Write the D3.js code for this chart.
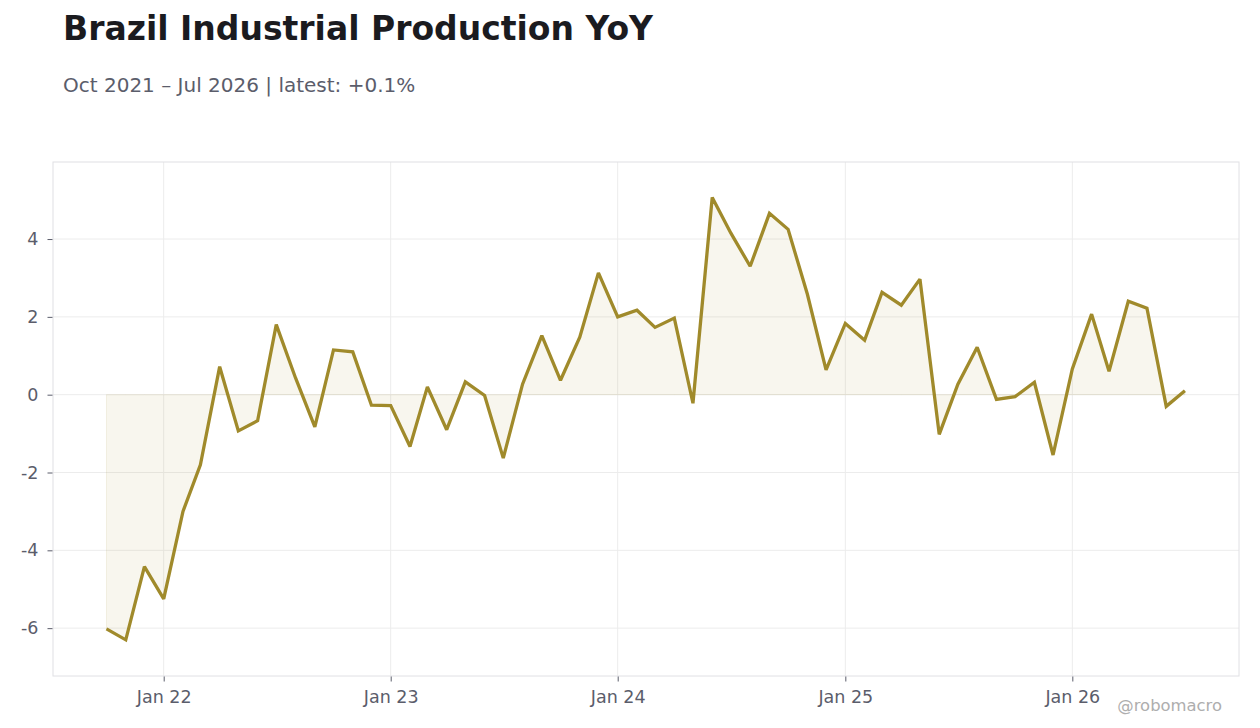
<!DOCTYPE html>
<html>
<head>
<meta charset="utf-8">
<script src="https://cdn.jsdelivr.net/npm/d3@7/dist/d3.min.js"></script>
<style>
  html, body { margin: 0; padding: 0; background: #ffffff; }
  svg { display: block; font-family: "DejaVu Sans", sans-serif; }
</style>
</head>
<body>
<svg id="chart" width="1260" height="728"></svg>
<script>
// Data: monthly YoY % change, Oct 2021 .. Jul 2026
const startMonth = "2021-10";
const values = [
  -6.02, -6.30, -4.42,
  -5.25, -3.00, -1.80, 0.72, -0.93, -0.67, 1.80, 0.43, -0.83, 1.15, 1.10, -0.27,
  -0.28, -1.33, 0.20, -0.90, 0.33, -0.02, -1.63, 0.27, 1.52, 0.37, 1.48, 3.13,
  2.00, 2.17, 1.73, 1.97, -0.22, 5.07, 4.15, 3.30, 4.66, 4.25, 2.58, 0.64,
  1.83, 1.40, 2.63, 2.30, 2.97, -1.02, 0.27, 1.22, -0.12, -0.05, 0.32, -1.55,
  0.66, 2.07, 0.60, 2.40, 2.22, -0.30, 0.10
];
const yTicks = [-6, -4, -2, 0, 2, 4];
const xTickLabels = ["Jan 22", "Jan 23", "Jan 24", "Jan 25", "Jan 26"];
const xTickDates = ["2022-01-01", "2023-01-01", "2024-01-01", "2025-01-01", "2026-01-01"];
const titleText = "Brazil Industrial Production YoY";
const subtitleText = "Oct 2021 – Jul 2026 | latest: +0.1%";
const watermark = "@robomacro";

const parse = d3.utcParse("%Y-%m");
const start = parse(startMonth);
const data = values.map((v, i) => ({ date: d3.utcMonth.offset(start, i), value: v }));

const svg = d3.select("#chart");
const L = 53, R = 1239, T = 162, B = 676;

const x = d3.scaleUtc()
  .domain([new Date(Date.UTC(2021, 6, 7)), new Date(Date.UTC(2026, 8, 26))])
  .range([L, R]);
const y = d3.scaleLinear().domain([-7.23, 5.98]).range([B, T]);

const lineColor = "#a08a2b";
const textColor = "#5b5d6b";

// gridlines
const g = svg.append("g");
g.selectAll("line.gy").data(yTicks).join("line")
  .attr("x1", L).attr("x2", R)
  .attr("y1", d => y(d)).attr("y2", d => y(d))
  .attr("stroke", "#ececec").attr("stroke-width", 1);
g.selectAll("line.gx").data(xTickDates.map(d => new Date(d))).join("line")
  .attr("y1", T).attr("y2", B)
  .attr("x1", d => x(d)).attr("x2", d => x(d))
  .attr("stroke", "#ececec").attr("stroke-width", 1);

// area fill to zero
const area = d3.area().x(d => x(d.date)).y0(y(0)).y1(d => y(d.value));
svg.append("path").datum(data)
  .attr("d", area)
  .attr("fill", "rgba(160,138,43,0.08)")
  .attr("stroke", "rgba(160,138,43,0.10)")
  .attr("stroke-width", 1);

// line
const line = d3.line().x(d => x(d.date)).y(d => y(d.value));
svg.append("path").datum(data)
  .attr("d", line)
  .attr("fill", "none")
  .attr("stroke", lineColor)
  .attr("stroke-width", 3.3)
  .attr("stroke-linejoin", "miter")
  .attr("stroke-miterlimit", 2);

// frame
svg.append("rect")
  .attr("x", L).attr("y", T).attr("width", R - L).attr("height", B - T)
  .attr("fill", "none").attr("stroke", "#e0e0e4").attr("stroke-width", 1);

// y axis
const yAxis = d3.axisLeft(y).tickValues(yTicks).tickSize(5).tickPadding(9)
  .tickFormat(d => d3.format("d")(d).replace("−", "-"));
const ya = svg.append("g").attr("transform", `translate(${L - 0.5},0)`).call(yAxis);
ya.select(".domain").remove();
ya.selectAll(".tick line").attr("stroke", "#5b5d6b");
ya.selectAll("text").attr("fill", textColor).attr("font-size", 17.5)
  .attr("font-family", "DejaVu Sans, sans-serif");

// x axis
const xAxis = d3.axisBottom(x).tickValues(xTickDates.map(d => new Date(d)))
  .tickSize(5).tickPadding(9)
  .tickFormat((d, i) => xTickLabels[i]);
const xa = svg.append("g").attr("transform", `translate(0,${B + 0.5})`).call(xAxis);
xa.select(".domain").remove();
xa.selectAll(".tick line").attr("stroke", "#5b5d6b");
xa.selectAll("text").attr("fill", textColor).attr("font-size", 17.5)
  .attr("font-family", "DejaVu Sans, sans-serif");

// titles
svg.append("text").attr("x", 63).attr("y", 40)
  .attr("font-size", 33).attr("font-weight", "bold").attr("fill", "#1b1b1f")
  .text(titleText);
svg.append("text").attr("x", 63).attr("y", 92)
  .attr("font-size", 20).attr("fill", textColor)
  .text(subtitleText);
svg.append("text").attr("x", 1222).attr("y", 711).attr("text-anchor", "end")
  .attr("font-size", 16.4).attr("fill", "#aeaeae")
  .text(watermark);
</script>
</body>
</html>
